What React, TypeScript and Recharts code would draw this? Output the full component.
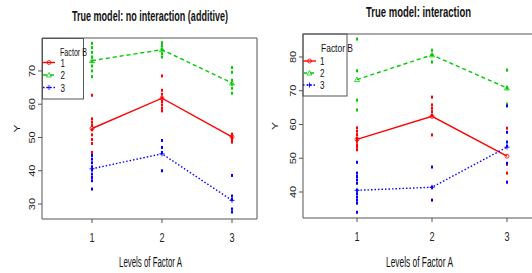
import React from 'react';
import { ComposedChart, Scatter, XAxis, YAxis, ReferenceArea } from 'recharts';

const RED = '#ff0000';
const GREEN = '#00cd00';
const BLUE = '#0000ff';
const AXIS = '#555555';
const FONT = '"Liberation Sans", Arial, sans-serif';

const factorA = [1, 2, 3];
const factorB = ['1', '2', '3'];

// left panel: true model without interaction
const addMeansB1 = [52.7, 61.8, 50.2];
const addMeansB2 = [73.1, 76.4, 66.4];
const addMeansB3 = [40.6, 45.1, 31.1];
const addObsB1 = [
  [62.7, 55.6, 54.6, 53.6, 52.3, 50.8, 49.4, 48.2, 45.5],
  [68.5, 64.2, 63.0, 61.8, 60.8, 59.8, 58.8, 58.0],
  [51.0, 50.2, 49.4, 48.6],
];
const addObsB2 = [
  [78.3, 77.0, 75.6, 74.2, 72.8, 71.5, 70.0, 68.3],
  [78.5, 77.6, 76.4, 75.2, 74.2],
  [71.0, 69.6, 67.2, 66.0, 64.8, 63.3],
];
const addObsB3 = [
  [44.6, 43.5, 42.4, 41.2, 40.2, 39.0, 38.0, 37.0, 34.5],
  [49.1, 47.0, 45.5, 40.0],
  [38.6, 32.4, 31.4, 28.5, 27.6],
];

// right panel: true model with interaction
const intMeansB1 = [55.6, 62.4, 50.6];
const intMeansB2 = [73.3, 80.6, 70.8];
const intMeansB3 = [40.5, 41.4, 53.3];
const intObsB1 = [
  [59.0, 58.0, 57.0, 56.0, 55.5, 55.0, 54.0, 53.3, 52.5],
  [68.1, 65.8, 64.8, 63.8, 62.8, 56.9],
  [58.9, 48.2, 45.6],
];
const intObsB2 = [
  [85.3, 75.9, 67.2, 64.3],
  [82.0, 80.6, 78.5],
  [76.1, 70.8, 66.0],
];
const intObsB3 = [
  [48.8, 45.6, 44.6, 43.6, 42.6, 40.5, 39.5, 38.5, 37.6, 36.7, 34.0],
  [47.4, 41.4, 37.6],
  [65.5, 57.7, 54.8, 53.6, 48.5, 42.9],
];

const addTicksY = [30, 40, 50, 60, 70];
const intTicksY = [40, 50, 60, 70, 80];

const seriesStyle = [
  { color: RED, dash: undefined, marker: 'circle' },
  { color: GREEN, dash: '4 3', marker: 'triangle' },
  { color: BLUE, dash: '1.5 2', marker: 'plus' },
];

const meanPoints = (means: number[]) => factorA.map((a, i) => ({ x: a, y: means[i] }));
const obsPoints = (obs: number[][]) =>
  obs.flatMap((vals, i) => vals.map((v) => ({ x: factorA[i], y: v })));

const drawMarker = (kind: string, color: string, cx: number, cy: number) => {
  if (kind === 'circle') {
    return <circle cx={cx} cy={cy} r={2} fill="none" stroke={color} strokeWidth={0.8} />;
  }
  if (kind === 'triangle') {
    return (
      <polygon
        points={`${cx},${cy - 2.5} ${cx - 2.5},${cy + 2} ${cx + 2.5},${cy + 2}`}
        fill="none"
        stroke={color}
        strokeWidth={0.8}
      />
    );
  }
  return (
    <path d={`M${cx - 2.5},${cy}H${cx + 2.5}M${cx},${cy - 2.5}V${cy + 2.5}`} stroke={color} strokeWidth={0.9} />
  );
};

const XTick = ({ x, y, payload }: any) => (
  <text
    transform={`translate(${x},${y + 16.5}) scale(0.7,1)`}
    textAnchor="middle"
    fontSize={13}
    fontFamily={FONT}
    fill="#222"
  >
    {payload.value}
  </text>
);

const YTick = ({ x, y, payload }: any) => (
  <text
    transform={`translate(${x - 1.5},${y}) rotate(-90) scale(1,0.85)`}
    textAnchor="middle"
    fontSize={11}
    fontFamily={FONT}
    fill="#222"
  >
    {payload.value}
  </text>
);

interface PanelProps {
  left: number;
  width: number;
  margin: { top: number; right: number; bottom: number; left: number };
  xDomain: [number, number];
  yDomain: [number, number];
  yTicks: number[];
  means: number[][];
  obs: number[][][];
}

const Panel: React.FC<PanelProps> = ({ left, width, margin, xDomain, yDomain, yTicks, means, obs }) => (
  <div style={{ position: 'absolute', left, top: 0 }}>
    <ComposedChart width={width} height={273} margin={margin}>
      <XAxis
        type="number"
        dataKey="x"
        domain={xDomain}
        ticks={factorA}
        allowDataOverflow
        axisLine={false}
        tickLine={{ stroke: AXIS }}
        tickSize={4}
        height={30}
        tick={<XTick />}
      />
      <YAxis
        type="number"
        dataKey="y"
        domain={yDomain}
        ticks={yTicks}
        allowDataOverflow
        axisLine={false}
        tickLine={{ stroke: AXIS }}
        tickSize={4}
        width={20}
        tick={<YTick />}
      />
      <ReferenceArea
        x1={xDomain[0]}
        x2={xDomain[1]}
        y1={yDomain[0]}
        y2={yDomain[1]}
        fill="none"
        fillOpacity={0}
        stroke={AXIS}
        strokeWidth={1}
      />
      {obs.map((o, k) => (
        <Scatter
          key={`obs${k}`}
          data={obsPoints(o)}
          dataKey="y"
          isAnimationActive={false}
          shape={(p: any) => (
            <rect x={p.cx - 1} y={p.cy - 1.5} width={2} height={3} fill={seriesStyle[k].color} />
          )}
        />
      ))}
      {means.map((m, k) => (
        <Scatter
          key={`mean${k}`}
          data={meanPoints(m)}
          dataKey="y"
          isAnimationActive={false}
          line={{
            stroke: seriesStyle[k].color,
            strokeWidth: 1.4,
            strokeDasharray: seriesStyle[k].dash,
          }}
          shape={(p: any) => drawMarker(seriesStyle[k].marker, seriesStyle[k].color, p.cx, p.cy)}
        />
      ))}
    </ComposedChart>
  </div>
);

interface LegendBoxProps {
  x1: number;
  x2: number;
  y1: number;
  y2: number;
  titleX: number;
  titleY: number;
  titleLen: number;
  rowY: number[];
  lineX: [number, number];
  labelX: number;
}

const LegendBox: React.FC<LegendBoxProps> = ({ x1, x2, y1, y2, titleX, titleY, titleLen, rowY, lineX, labelX }) => (
  <g fontFamily={FONT} fill="#111">
    <rect x={x1} y={y1} width={x2 - x1} height={y2 - y1} fill="none" stroke={AXIS} strokeWidth={1} />
    <text x={titleX} y={titleY} fontSize={11} textLength={titleLen} lengthAdjust="spacingAndGlyphs">
      Factor B
    </text>
    {factorB.map((b, i) => {
      const s = seriesStyle[i];
      const cy = rowY[i];
      return (
        <g key={b}>
          <line x1={lineX[0]} x2={lineX[1]} y1={cy} y2={cy} stroke={s.color} strokeWidth={1.4} strokeDasharray={s.dash} />
          {drawMarker(s.marker, s.color, (lineX[0] + lineX[1]) / 2, cy)}
          <text x={labelX} y={cy + 4} fontSize={11} textLength={4.5} lengthAdjust="spacingAndGlyphs">
            {b}
          </text>
        </g>
      );
    })}
  </g>
);

export default function App() {
  return (
    <div
      style={{
        position: 'absolute',
        left: 0,
        top: 0,
        width: 532,
        height: 273,
        overflow: 'hidden',
        background: '#fff',
      }}
    >
      <Panel
        left={0}
        width={266}
        margin={{ top: 38, right: 9, bottom: 24, left: 22 }}
        xDomain={[0.286, 3.357]}
        yDomain={[25.5, 79.9]}
        yTicks={addTicksY}
        means={[addMeansB1, addMeansB2, addMeansB3]}
        obs={[addObsB1, addObsB2, addObsB3]}
      />
      <Panel
        left={266}
        width={270}
        margin={{ top: 34, right: 2, bottom: 25, left: 17 }}
        xDomain={[0.28, 3.36]}
        yDomain={[32.3, 86.8]}
        yTicks={intTicksY}
        means={[intMeansB1, intMeansB2, intMeansB3]}
        obs={[intObsB1, intObsB2, intObsB3]}
      />
      <svg
        width={532}
        height={273}
        style={{ position: 'absolute', left: 0, top: 0, pointerEvents: 'none' }}
      >
        <g fontFamily={FONT} fill="#111">
          <text x={150} y={20.5} fontSize={14} fontWeight="bold" textAnchor="middle" textLength={156} lengthAdjust="spacingAndGlyphs">
            True model:  no interaction (additive)
          </text>
          <text x={418.5} y={17} fontSize={14} fontWeight="bold" textAnchor="middle" textLength={105} lengthAdjust="spacingAndGlyphs">
            True model: interaction
          </text>
          <text x={150.5} y={266.5} fontSize={14} textAnchor="middle" textLength={63} lengthAdjust="spacingAndGlyphs">
            Levels of Factor A
          </text>
          <text x={419.5} y={266.5} fontSize={14} textAnchor="middle" textLength={67} lengthAdjust="spacingAndGlyphs">
            Levels of Factor A
          </text>
          <text transform="translate(20,128.5) rotate(-90) scale(1,0.8)" fontSize={12} textAnchor="middle">
            Y
          </text>
          <text transform="translate(278,126) rotate(-90) scale(1,0.8)" fontSize={12} textAnchor="middle">
            Y
          </text>
        </g>
        <LegendBox
          x1={42.5}
          x2={83.5}
          y1={38.5}
          y2={99}
          titleX={60}
          titleY={56}
          titleLen={27}
          rowY={[62.5, 75, 87.5]}
          lineX={[43, 55]}
          labelX={60.5}
        />
        <LegendBox
          x1={303}
          x2={347}
          y1={34}
          y2={96}
          titleX={321}
          titleY={52}
          titleLen={32}
          rowY={[61, 73, 85]}
          lineX={[303, 316]}
          labelX={320}
        />
      </svg>
    </div>
  );
}
